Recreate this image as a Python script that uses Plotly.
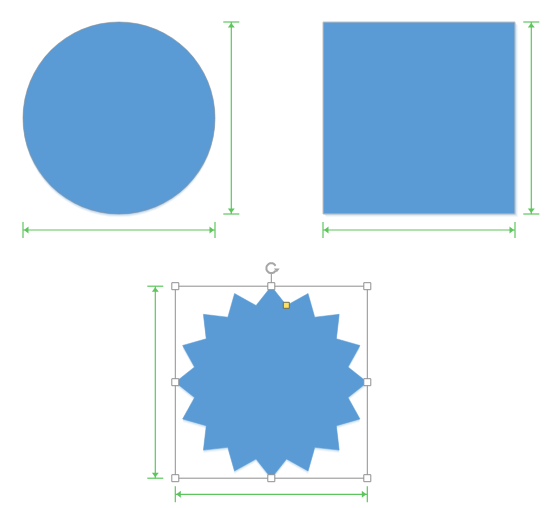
import math
import plotly.graph_objects as go

# shape geometry (pixels, origin top-left)
shape_names = ['circle', 'square', 'star']
centers_x = [119.0, 419.0, 271.3]
centers_y = [118.0, 118.0, 382.2]
widths = [192.0, 192.0, 192.0]
heights = [192.0, 192.0, 192.0]
star_points = 16
star_inner_ratio = 0.815

# dimension lines: x of the vertical one, y of the horizontal one
dim_vert_x = [231.3, 531.3, 155.3]
dim_horz_y = [230.0, 230.0, 494.3]

fill_blue = '#5b9bd5'
green = '#5cc65c'
handle_gray = '#8f8f8f'

# the page body has an 8px margin, so the figure starts at (8, 8)
PAGE_MARGIN = 8

fig = go.Figure()
shapes = []


def box(i):
    return (centers_x[i] - widths[i] / 2, centers_y[i] - heights[i] / 2,
            centers_x[i] + widths[i] / 2, centers_y[i] + heights[i] / 2)


# circle with soft shadow
x0, y0, x1, y1 = box(0)
for off, a in [(3, 0.10), (2, 0.15), (1, 0.2)]:
    shapes.append(dict(type='circle', x0=x0, y0=y0 + off, x1=x1, y1=y1 + off,
                       fillcolor=f'rgba(91,155,213,{a})', line=dict(width=0), layer='below'))
shapes.append(dict(type='circle', x0=x0, y0=y0, x1=x1, y1=y1, fillcolor=fill_blue,
                   line=dict(color='rgba(140,140,140,0.55)', width=1), layer='below'))

# square with soft shadow
x0, y0, x1, y1 = box(1)
for off, a in [(3, 0.08), (2, 0.12), (1, 0.18)]:
    shapes.append(dict(type='rect', x0=x0 + off, y0=y0 + off, x1=x1 + off, y1=y1 + off,
                       fillcolor=f'rgba(91,155,213,{a})', line=dict(width=0), layer='below'))
shapes.append(dict(type='rect', x0=x0, y0=y0, x1=x1, y1=y1, fillcolor=fill_blue,
                   line=dict(color='#c0c0c0', width=1), layer='below'))

# star
cx, cy = centers_x[2], centers_y[2]
rx, ry = widths[2] / 2, heights[2] / 2
verts = []
for k in range(star_points * 2):
    ang = -math.pi / 2 + k * math.pi / star_points
    r = 1.0 if k % 2 == 0 else star_inner_ratio
    verts.append((cx + r * rx * math.cos(ang), cy + r * ry * math.sin(ang)))


def star_path(dx, dy):
    return 'M ' + ' L '.join(f'{x + dx:.2f},{y + dy:.2f}' for x, y in verts) + ' Z'


for off, a in [(3, 0.08), (2, 0.12), (1, 0.18)]:
    shapes.append(dict(type='path', path=star_path(0, off), fillcolor=f'rgba(91,155,213,{a})',
                       line=dict(width=0), layer='below'))
shapes.append(dict(type='path', path=star_path(0, 0), fillcolor=fill_blue,
                   line=dict(color='rgba(91,155,213,1)', width=0.5), layer='below'))

# selection box around star
x0, y0, x1, y1 = box(2)
shapes.append(dict(type='rect', x0=x0, y0=y0, x1=x1, y1=y1, fillcolor='rgba(0,0,0,0)',
                   line=dict(color=handle_gray, width=1), layer='below'))
shapes.append(dict(type='line', x0=cx, y0=y0 - 13, x1=cx, y1=y0,
                   line=dict(color=handle_gray, width=1), layer='below'))

# dimension lines
arrow_x, arrow_y, arrow_sym = [], [], []
for i in range(3):
    x0, y0, x1, y1 = box(i)
    vx = dim_vert_x[i]
    hy = dim_horz_y[i]
    shapes.append(dict(type='line', x0=vx, y0=y0, x1=vx, y1=y1, line=dict(color=green, width=1.2), layer='below'))
    shapes.append(dict(type='line', x0=vx - 8, y0=y0, x1=vx + 8, y1=y0, line=dict(color=green, width=1.2), layer='below'))
    shapes.append(dict(type='line', x0=vx - 8, y0=y1, x1=vx + 8, y1=y1, line=dict(color=green, width=1.2), layer='below'))
    shapes.append(dict(type='line', x0=x0, y0=hy, x1=x1, y1=hy, line=dict(color=green, width=1.2), layer='below'))
    shapes.append(dict(type='line', x0=x0, y0=hy - 8, x1=x0, y1=hy + 8, line=dict(color=green, width=1.2), layer='below'))
    shapes.append(dict(type='line', x0=x1, y0=hy - 8, x1=x1, y1=hy + 8, line=dict(color=green, width=1.2), layer='below'))
    arrow_x += [vx, vx, x0 + 4, x1 - 4]
    arrow_y += [y0 + 4, y1 - 4, hy, hy]
    arrow_sym += ['triangle-up', 'triangle-down', 'triangle-left', 'triangle-right']

fig.add_trace(go.Scatter(x=arrow_x, y=arrow_y, mode='markers', hoverinfo='skip',
                         marker=dict(symbol=arrow_sym, size=6, color=green, line=dict(width=0))))

# rotation handle arc
arc_x, arc_y = [], []
rot_cy = box(2)[1] - 18
for k in range(0, 301, 15):
    ang = math.radians(-30 - k)
    arc_x.append(cx + 5 * math.cos(ang))
    arc_y.append(rot_cy + 5 * math.sin(ang))
fig.add_trace(go.Scatter(x=arc_x, y=arc_y, mode='lines', hoverinfo='skip',
                         line=dict(color='#a6a6a6', width=2)))
fig.add_trace(go.Scatter(x=[cx + 5.5], y=[rot_cy + 1.5], mode='markers', hoverinfo='skip',
                         marker=dict(symbol='triangle-down', size=5, color='#a6a6a6')))

# sizing handles
x0, y0, x1, y1 = box(2)
hx = [x0, cx, x1, x0, x1, x0, cx, x1]
hy_ = [y0, y0, y0, cy, cy, y1, y1, y1]
fig.add_trace(go.Scatter(x=hx, y=hy_, mode='markers', hoverinfo='skip',
                         marker=dict(symbol='square', size=7, color='white',
                                     line=dict(color=handle_gray, width=1))))
# adjustment handle
fig.add_trace(go.Scatter(x=[286.3], y=[305.3], mode='markers', hoverinfo='skip',
                         marker=dict(symbol='square', size=6, color='#ffe066',
                                     line=dict(color='#6d6d4a', width=1))))

fig.update_layout(
    width=554 - PAGE_MARGIN, height=508 - PAGE_MARGIN,
    margin=dict(l=0, r=0, t=0, b=0),
    shapes=shapes,
    showlegend=False,
    paper_bgcolor='white',
    plot_bgcolor='white',
    xaxis=dict(range=[PAGE_MARGIN, 554], visible=False, fixedrange=True),
    yaxis=dict(range=[508, PAGE_MARGIN], visible=False, fixedrange=True),
)

fig.write_html("out.html")
